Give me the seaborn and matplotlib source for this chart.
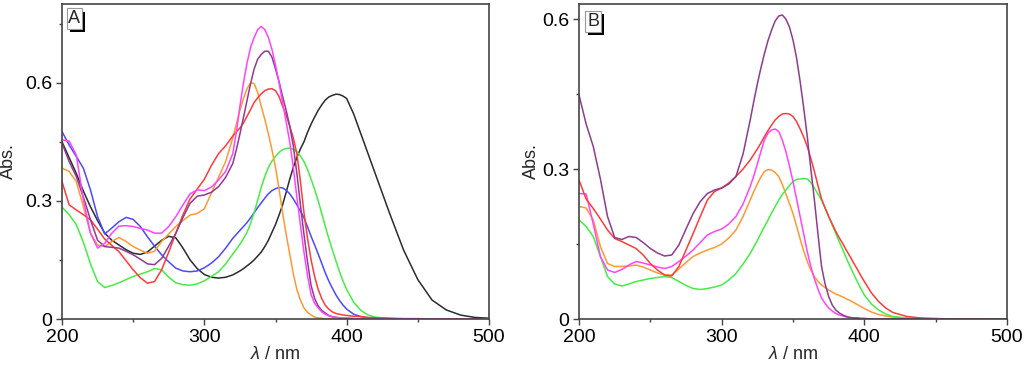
import pandas as pd
import matplotlib
matplotlib.use("Agg")
import matplotlib.pyplot as plt
import matplotlib.patheffects as pe
import seaborn as sns

# wavelength grid shared by all spectra (nm), finer around the bands
wl = (list(range(200, 320, 5)) + [320 + 2.5 * i for i in range(33)]
      + [405, 410, 415, 420] + [430, 440, 450, 460, 470, 480, 490, 500])

# ---- panel A spectra (Abs.) ----
a_black = [0.45, 0.41, 0.37, 0.325, 0.285, 0.25, 0.218, 0.2, 0.188, 0.176, 0.167, 0.164,
           0.17, 0.185, 0.2, 0.21, 0.206, 0.18, 0.15, 0.128, 0.113, 0.106, 0.104, 0.106,
           0.112, 0.117, 0.122, 0.128, 0.135, 0.142, 0.15, 0.16, 0.17, 0.184, 0.2,
           0.22, 0.24, 0.264, 0.29, 0.322, 0.355, 0.385, 0.41, 0.432, 0.45, 0.474,
           0.495, 0.513, 0.53, 0.544, 0.556, 0.564, 0.568, 0.571, 0.57, 0.566, 0.56,
           0.52, 0.47, 0.42, 0.37,
           0.27, 0.175, 0.1, 0.048, 0.023, 0.01, 0.004, 0.002]
a_blue = [0.476, 0.442, 0.413, 0.383, 0.328, 0.26, 0.216, 0.231, 0.247, 0.258, 0.253, 0.235,
          0.209, 0.185, 0.163, 0.145, 0.129, 0.122, 0.12, 0.122, 0.13, 0.142, 0.158, 0.18,
          0.205, 0.215, 0.225, 0.235, 0.245, 0.257, 0.27, 0.283, 0.295, 0.307, 0.318,
          0.326, 0.331, 0.334, 0.333, 0.327, 0.318, 0.305, 0.29, 0.274, 0.257, 0.234,
          0.21, 0.188, 0.165, 0.141, 0.117, 0.096, 0.078, 0.061, 0.047, 0.035, 0.025,
          0.012, 0.006, 0.003, 0.002,
          0.001, 0, 0, 0, 0, 0, 0, 0]
a_green = [0.284, 0.265, 0.24, 0.195, 0.14, 0.095, 0.08, 0.085, 0.092, 0.1, 0.108, 0.114,
           0.12, 0.128, 0.125, 0.106, 0.092, 0.087, 0.086, 0.089, 0.097, 0.108, 0.12, 0.14,
           0.165, 0.177, 0.19, 0.204, 0.22, 0.243, 0.27, 0.302, 0.335, 0.362, 0.385,
           0.401, 0.413, 0.423, 0.43, 0.433, 0.434, 0.431, 0.425, 0.414, 0.4, 0.38,
           0.355, 0.329, 0.3, 0.268, 0.235, 0.204, 0.175, 0.147, 0.12, 0.096, 0.075,
           0.042, 0.022, 0.01, 0.005,
           0.001, 0, 0, 0, 0, 0, 0, 0]
a_orange = [0.383, 0.375, 0.349, 0.286, 0.218, 0.188, 0.184, 0.197, 0.207, 0.197, 0.184, 0.175,
            0.167, 0.172, 0.197, 0.216, 0.235, 0.25, 0.264, 0.268, 0.28, 0.32, 0.36, 0.4,
            0.46, 0.495, 0.53, 0.56, 0.585, 0.6, 0.598, 0.575, 0.54, 0.507, 0.47,
            0.43, 0.385, 0.33, 0.27, 0.215, 0.165, 0.115, 0.075, 0.048, 0.028, 0.017,
            0.01, 0.005, 0.003, 0.002, 0.001, 0.001, 0, 0, 0, 0, 0,
            0, 0, 0, 0,
            0, 0, 0, 0, 0, 0, 0, 0]
a_red = [0.349, 0.29, 0.277, 0.265, 0.252, 0.228, 0.203, 0.187, 0.171, 0.148, 0.125, 0.105,
         0.091, 0.095, 0.125, 0.17, 0.218, 0.265, 0.305, 0.33, 0.355, 0.39, 0.42, 0.44,
         0.465, 0.475, 0.485, 0.498, 0.515, 0.532, 0.55, 0.562, 0.572, 0.58, 0.584,
         0.585, 0.58, 0.565, 0.54, 0.518, 0.49, 0.46, 0.42, 0.35, 0.27, 0.205,
         0.15, 0.108, 0.075, 0.052, 0.035, 0.025, 0.018, 0.014, 0.012, 0.01, 0.009,
         0.007, 0.006, 0.004, 0.003,
         0.002, 0.001, 0.001, 0, 0, 0, 0, 0]
a_purple = [0.447, 0.4, 0.362, 0.31, 0.252, 0.2, 0.184, 0.182, 0.18, 0.172, 0.163, 0.152,
            0.14, 0.138, 0.154, 0.185, 0.218, 0.258, 0.294, 0.312, 0.315, 0.322, 0.336, 0.36,
            0.395, 0.43, 0.47, 0.512, 0.555, 0.598, 0.635, 0.66, 0.672, 0.68, 0.68,
            0.665, 0.635, 0.603, 0.565, 0.53, 0.49, 0.44, 0.37, 0.29, 0.215, 0.145,
            0.085, 0.052, 0.033, 0.022, 0.015, 0.009, 0.006, 0.004, 0.003, 0.002, 0.002,
            0.001, 0, 0, 0,
            0, 0, 0, 0, 0, 0, 0, 0]
a_magenta = [0.455, 0.452, 0.417, 0.303, 0.218, 0.18, 0.192, 0.218, 0.236, 0.237, 0.235, 0.23,
             0.226, 0.218, 0.218, 0.235, 0.26, 0.29, 0.318, 0.328, 0.326, 0.335, 0.353, 0.375,
             0.42, 0.475, 0.54, 0.6, 0.65, 0.69, 0.715, 0.735, 0.743, 0.735, 0.715,
             0.685, 0.645, 0.6, 0.55, 0.5, 0.45, 0.385, 0.31, 0.24, 0.17, 0.11,
             0.062, 0.04, 0.028, 0.018, 0.012, 0.008, 0.005, 0.004, 0.003, 0.002, 0.002,
             0.001, 0, 0, 0,
             0, 0, 0, 0, 0, 0, 0, 0]

# ---- panel B spectra (Abs.) ----
b_orange = [0.225, 0.222, 0.198, 0.145, 0.111, 0.105, 0.105, 0.106, 0.108, 0.104, 0.098, 0.092,
            0.088, 0.088, 0.1, 0.113, 0.125, 0.132, 0.138, 0.143, 0.15, 0.162, 0.178, 0.205,
            0.238, 0.255, 0.27, 0.284, 0.295, 0.299, 0.298, 0.293, 0.285, 0.269, 0.25,
            0.231, 0.211, 0.186, 0.16, 0.136, 0.115, 0.098, 0.085, 0.075, 0.068, 0.063,
            0.058, 0.054, 0.05, 0.047, 0.044, 0.04, 0.037, 0.033, 0.029, 0.025, 0.021,
            0.014, 0.009, 0.006, 0.004,
            0.001, 0, 0, 0, 0, 0, 0, 0]
b_green = [0.198, 0.185, 0.165, 0.125, 0.085, 0.07, 0.066, 0.07, 0.075, 0.078, 0.081, 0.083,
           0.085, 0.083, 0.075, 0.067, 0.061, 0.059, 0.061, 0.064, 0.068, 0.078, 0.091, 0.11,
           0.131, 0.144, 0.157, 0.171, 0.185, 0.198, 0.212, 0.225, 0.238, 0.249, 0.258,
           0.267, 0.275, 0.279, 0.28, 0.281, 0.28, 0.273, 0.262, 0.25, 0.238, 0.222,
           0.205, 0.188, 0.171, 0.154, 0.138, 0.121, 0.105, 0.09, 0.075, 0.061, 0.048,
           0.03, 0.018, 0.01, 0.005,
           0.002, 0.001, 0, 0, 0, 0, 0, 0]
b_magenta = [0.251, 0.25, 0.19, 0.125, 0.098, 0.093, 0.099, 0.108, 0.115, 0.112, 0.108, 0.104,
             0.101, 0.105, 0.115, 0.126, 0.138, 0.153, 0.168, 0.175, 0.18, 0.19, 0.205, 0.23,
             0.265, 0.286, 0.31, 0.335, 0.358, 0.372, 0.378, 0.38, 0.375, 0.358, 0.335,
             0.306, 0.275, 0.24, 0.205, 0.17, 0.135, 0.105, 0.08, 0.06, 0.042, 0.031,
             0.022, 0.016, 0.011, 0.008, 0.006, 0.004, 0.003, 0.002, 0.002, 0.001, 0.001,
             0, 0, 0, 0,
             0, 0, 0, 0, 0, 0, 0, 0]
b_red = [0.278, 0.24, 0.221, 0.2, 0.178, 0.161, 0.155, 0.148, 0.141, 0.128, 0.111, 0.098,
         0.088, 0.086, 0.105, 0.138, 0.171, 0.205, 0.238, 0.255, 0.262, 0.272, 0.285, 0.3,
         0.318, 0.329, 0.34, 0.352, 0.365, 0.377, 0.388, 0.398, 0.405, 0.41, 0.411,
         0.41, 0.405, 0.395, 0.38, 0.364, 0.345, 0.321, 0.295, 0.267, 0.24, 0.222,
         0.205, 0.19, 0.175, 0.162, 0.15, 0.137, 0.125, 0.112, 0.1, 0.087, 0.075,
         0.052, 0.035, 0.022, 0.013,
         0.005, 0.002, 0.001, 0, 0, 0, 0, 0]
b_purple = [0.448, 0.39, 0.345, 0.28, 0.205, 0.163, 0.159, 0.165, 0.163, 0.153, 0.141, 0.132,
            0.126, 0.128, 0.148, 0.18, 0.211, 0.235, 0.251, 0.258, 0.262, 0.27, 0.285, 0.33,
            0.398, 0.435, 0.47, 0.502, 0.531, 0.557, 0.578, 0.596, 0.606, 0.608, 0.6,
            0.584, 0.558, 0.522, 0.475, 0.422, 0.365, 0.3, 0.238, 0.17, 0.105, 0.07,
            0.045, 0.028, 0.018, 0.012, 0.008, 0.005, 0.003, 0.002, 0.002, 0.001, 0.001,
            0, 0, 0, 0,
            0, 0, 0, 0, 0, 0, 0, 0]

colors = {"black": "#2b2b2b", "blue": "#4a4aff", "green": "#44ee44",
          "orange": "#ff9933", "red": "#ff3b3b", "purple": "#8e3c8e",
          "magenta": "#ff44ff"}

panel_a = {"black": a_black, "blue": a_blue, "green": a_green, "orange": a_orange,
           "red": a_red, "purple": a_purple, "magenta": a_magenta}
panel_b = {"orange": b_orange, "green": b_green, "magenta": b_magenta,
           "red": b_red, "purple": b_purple}


def to_long(spectra):
    frames = []
    for name, vals in spectra.items():
        assert len(vals) == len(wl), (name, len(vals))
        frames.append(pd.DataFrame({"wl": wl, "abs": vals, "curve": name}))
    return pd.concat(frames, ignore_index=True)


sns.set_theme(style="ticks")
plt.rcParams["font.family"] = ["Liberation Sans", "DejaVu Sans"]
plt.rcParams["mathtext.fontset"] = "custom"
plt.rcParams["mathtext.it"] = "Liberation Sans:italic"
plt.rcParams["mathtext.rm"] = "Liberation Sans"

fig = plt.figure(figsize=(10.24, 3.66), dpi=100)
ax_a = fig.add_axes([62 / 1024, 47 / 366, 427 / 1024, 315 / 366])
ax_b = fig.add_axes([579 / 1024, 47 / 366, 428 / 1024, 315 / 366])

spine_col = "#444444"
for ax, spectra, top, tag, tagpos, ylab_x in [
        (ax_a, panel_a, 0.80, "A", (0.029, 0.953), -0.105),
        (ax_b, panel_b, 0.63, "B", (0.033, 0.945), -0.091)]:
    df = to_long(spectra)
    sns.lineplot(data=df, x="wl", y="abs", hue="curve", palette=colors,
                 hue_order=list(spectra.keys()), estimator=None,
                 legend=False, lw=1.1, ax=ax)
    ax.set_xlim(200, 500)
    ax.set_ylim(0, top)
    ax.set_xticks([200, 300, 400, 500])
    ax.set_xticks([250, 350, 450], minor=True)
    ax.set_yticks([0, 0.3, 0.6])
    ax.set_yticklabels(["0", "0.3", "0.6"])
    ax.set_yticks([t for t in [0.15, 0.45, 0.75] if t < top], minor=True)
    ax.tick_params(which="major", direction="out", length=4, width=1,
                   color=spine_col, labelsize=14, pad=3, labelcolor="black")
    ax.tick_params(which="minor", direction="out", length=2.5, width=1,
                   color=spine_col)
    for s in ax.spines.values():
        s.set_visible(True)
        s.set_color(spine_col)
        s.set_linewidth(1.2)
    ax.set_xlabel(r"$\lambda$ / nm", fontsize=13)
    ax.xaxis.set_label_coords(0.5, -0.085)
    ax.set_ylabel("Abs.", fontsize=13)
    ax.yaxis.set_label_coords(ylab_x, 0.5)
    t = ax.text(tagpos[0], tagpos[1], tag, transform=ax.transAxes,
                ha="center", va="center", fontsize=13,
                bbox=dict(boxstyle="square,pad=0.1", fc="white",
                          ec="#999999", lw=0.8))
    t.get_bbox_patch().set_path_effects(
        [pe.withSimplePatchShadow(offset=(2.2, -2.2), shadow_rgbFace="black",
                                  alpha=1.0)])

fig.savefig("out.png", dpi=100)
